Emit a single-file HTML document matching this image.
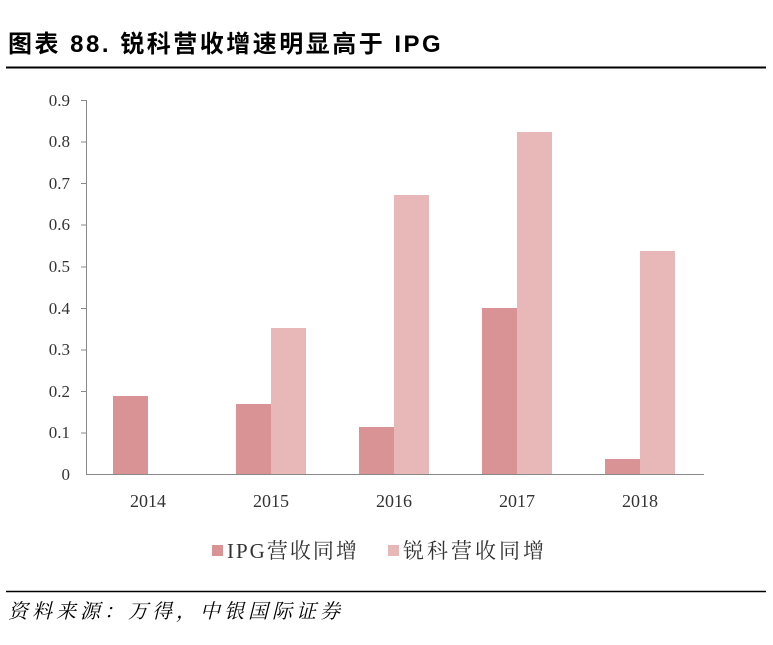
<!DOCTYPE html><html><head><meta charset="utf-8"><style>
body{margin:0;background:#fff;width:773px;height:640px;overflow:hidden;font-family:"Liberation Serif","Noto Serif CJK SC",serif}
</style></head><body>
<svg width="773" height="640" xmlns="http://www.w3.org/2000/svg">
<text x="8" y="52" font-family="Liberation Sans,'Noto Sans CJK SC',sans-serif" font-weight="bold" font-size="24" letter-spacing="2.5" fill="#000">图表 88. 锐科营收增速明显高于 IPG</text>
<line x1="6" y1="67.5" x2="766" y2="67.5" stroke="#000" stroke-width="2"/>
<g font-size="17" fill="#333" text-anchor="end" font-family="Liberation Serif,serif">
<text x="70" y="480">0</text><text x="70" y="438">0.1</text><text x="70" y="397">0.2</text><text x="70" y="355">0.3</text><text x="70" y="314">0.4</text><text x="70" y="272">0.5</text><text x="70" y="230">0.6</text><text x="70" y="189">0.7</text><text x="70" y="147">0.8</text><text x="70" y="106">0.9</text>
</g>
<g stroke="#888" stroke-width="1">
<line x1="86.5" y1="100" x2="86.5" y2="474"/>
<line x1="86" y1="474.5" x2="704" y2="474.5"/>
<line x1="81" y1="100.5" x2="86" y2="100.5"/><line x1="81" y1="142" x2="86" y2="142"/><line x1="81" y1="183.5" x2="86" y2="183.5"/><line x1="81" y1="225" x2="86" y2="225"/><line x1="81" y1="267" x2="86" y2="267"/><line x1="81" y1="308.5" x2="86" y2="308.5"/><line x1="81" y1="350" x2="86" y2="350"/><line x1="81" y1="391.5" x2="86" y2="391.5"/><line x1="81" y1="433" x2="86" y2="433"/>
</g>
<g fill="#d99395">
<rect x="113" y="396" width="35" height="78"/>
<rect x="236" y="404" width="35" height="70"/>
<rect x="359" y="427" width="35" height="47"/>
<rect x="482" y="308" width="35" height="166"/>
<rect x="605" y="459" width="35" height="15"/>
</g>
<g fill="#e8b8b9">
<rect x="271" y="328" width="35" height="146"/>
<rect x="394" y="195" width="35" height="279"/>
<rect x="517" y="132" width="35" height="342"/>
<rect x="640" y="251" width="35" height="223"/>
</g>
<g font-size="18" fill="#333" text-anchor="middle">
<text x="148" y="507">2014</text><text x="271" y="507">2015</text><text x="394" y="507">2016</text><text x="517" y="507">2017</text><text x="640" y="507">2018</text>
</g>
<rect x="212" y="545" width="11" height="11" fill="#d99395"/>
<text x="227" y="558" font-size="21" letter-spacing="2" fill="#333">IPG营收同增</text>
<rect x="388" y="545" width="11" height="11" fill="#e8b8b9"/>
<text x="403" y="558" font-size="21" letter-spacing="3" fill="#333">锐科营收同增</text>
<line x1="6" y1="591.5" x2="766" y2="591.5" stroke="#000" stroke-width="1.5"/>
<text x="8" y="618" font-size="20" letter-spacing="4" font-style="italic" fill="#000" font-family="'Noto Serif CJK SC',serif">资料来源：万得，中银国际证券</text>
</svg>
</body></html>
